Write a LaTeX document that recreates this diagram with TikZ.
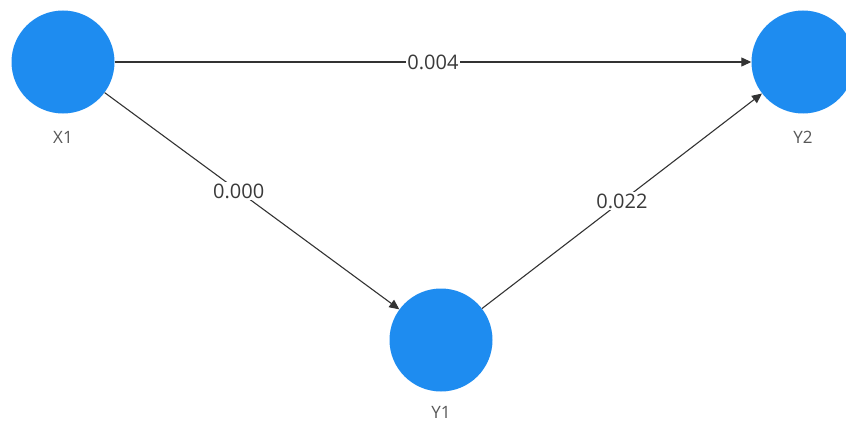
\documentclass[tikz,border=0pt]{standalone}
\usepackage{fontspec}
\setmainfont{Open Sans}
\usetikzlibrary{arrows.meta}
\definecolor{nodeblue}{HTML}{1E8CF0}
\definecolor{txt}{HTML}{3A3A3A}
\definecolor{edge}{HTML}{333333}
\begin{document}
\begin{tikzpicture}[x=1pt,y=-1pt,
  latent/.style={circle,fill=nodeblue,minimum size=103pt,inner sep=0pt},
  caption/.style={text=txt!85,font=\fontsize{17}{19}\selectfont},
  val/.style={fill=white,text=txt,inner sep=1.5pt,font=\fontsize{20}{22}\selectfont},
  path/.style={draw=edge,line width=1.1pt,-{Triangle[length=10pt,width=9pt]}}]
\useasboundingbox (0,0) rectangle (846,428);
\node[latent] (X1) at (63,62) {};
\node[latent] (Y2) at (803,62) {};
\node[latent] (Y1) at (441,340) {};
\node[caption] (lX1) at (63,137) {X1};
\node[caption] (lY2) at (803,137) {Y2};
\node[caption] (lY1) at (441,412) {Y1};
\draw[path] (X1) -- node[val] (e1) {0.004} (Y2);
\draw[path] (X1) -- node[val,pos=0.455] (e2) {0.000} (Y1);
\draw[path] (Y1) -- node[val,pos=0.5] (e3) {0.022} (Y2);
\end{tikzpicture}
\end{document}
